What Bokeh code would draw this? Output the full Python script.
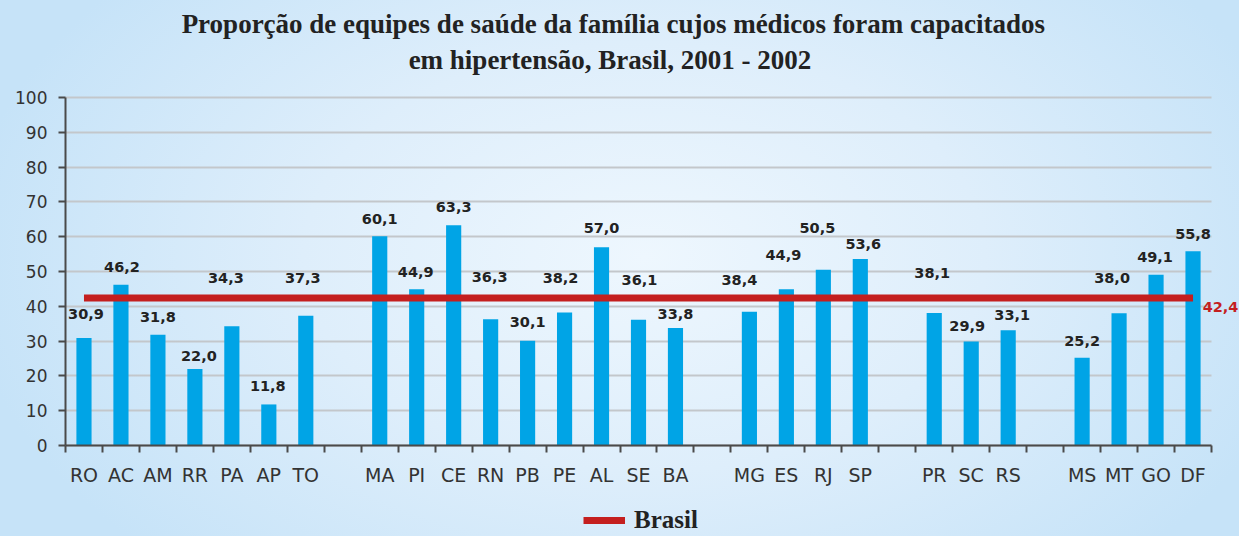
from bokeh.plotting import figure
from bokeh.models import (ColumnDataSource, FixedTicker, Label, Legend, LegendItem, Range1d)
from bokeh.core.properties import value
from bokeh.embed import file_html
from bokeh.resources import INLINE

# ---------------- data ----------------
regions = [
    ["RO", "AC", "AM", "RR", "PA", "AP", "TO"],
    ["MA", "PI", "CE", "RN", "PB", "PE", "AL", "SE", "BA"],
    ["MG", "ES", "RJ", "SP"],
    ["PR", "SC", "RS"],
    ["MS", "MT", "GO", "DF"],
]
values = [
    [30.9, 46.2, 31.8, 22.0, 34.3, 11.8, 37.3],
    [60.1, 44.9, 63.3, 36.3, 30.1, 38.2, 57.0, 36.1, 33.8],
    [38.4, 44.9, 50.5, 53.6],
    [38.1, 29.9, 33.1],
    [25.2, 38.0, 49.1, 55.8],
]
value_text = [
    ["30,9", "46,2", "31,8", "22,0", "34,3", "11,8", "37,3"],
    ["60,1", "44,9", "63,3", "36,3", "30,1", "38,2", "57,0", "36,1", "33,8"],
    ["38,4", "44,9", "50,5", "53,6"],
    ["38,1", "29,9", "33,1"],
    ["25,2", "38,0", "49,1", "55,8"],
]
brasil_value = 42.4
brasil_text = "42,4"
y_ticks = [0, 10, 20, 30, 40, 50, 60, 70, 80, 90, 100]
title_lines = ["Proporção de equipes de saúde da família cujos médicos foram capacitados",
               "em hipertensão,  Brasil, 2001 - 2002"]
legend_label = "Brasil"

# manual placement of the value labels as in the reference (label y in data units, x shift in px)
label_y = [
    [37.7, 51.4, 37.0, 25.6, 48.1, 17.2, 48.1],
    [65.0, 49.9, 68.5, 48.4, 35.5, 48.2, 62.4, 47.6, 37.8],
    [47.6, 54.7, 62.5, 58.0],
    [49.7, 34.2, 37.6],
    [30.0, 48.2, 54.2, 60.9],
]
label_dx = [
    [2, 1, 0, 4, -6, -1, -3],
    [0, -1, 0, -1, 0, -4, 0, 1, 0],
    [-10, -3, -6, 3],
    [-2, -4, 4],
    [0, -7, -1, 0],
]

# ---------------- layout of slots (one empty slot between regions) ----------------
xs, vals, ly, ldx, vtxt = [], [], [], [], []
overrides = {}
slot = 0
for r, states in enumerate(regions):
    if r > 0:
        overrides[slot] = ""
        slot += 1
    for k, s in enumerate(states):
        xs.append(slot)
        vals.append(values[r][k])
        ly.append(label_y[r][k])
        ldx.append(label_dx[r][k])
        vtxt.append(value_text[r][k])
        overrides[slot] = s
        slot += 1
n_slots = slot

src = ColumnDataSource(dict(x=xs, top=vals, ly=ly, dx=ldx, txt=vtxt))

W, H = 1239, 536
# frame covers the whole canvas; axes are pinned inside it
x_lo, x_hi = -0.5, n_slots - 0.5
px_x0, px_x1 = 65, 1211          # pixel span of the category axis
y_lo, y_hi = 0, 100
px_y0, px_y1 = 445, 97           # pixel rows of 0 and 100
sx = (px_x1 - px_x0) / (x_hi - x_lo)
sy = (px_y0 - px_y1) / (y_hi - y_lo)
xr = Range1d(x_lo - px_x0 / sx, x_hi + (W - px_x1) / sx)
yr = Range1d(y_lo - (H - px_y0) / sy, y_hi + px_y1 / sy)

p = figure(width=W, height=H, output_backend="svg", toolbar_location=None,
           x_range=xr, y_range=yr, min_border=0)
p.title.visible = False
p.styles = {"background": "radial-gradient(ellipse 55% 80% at 52% 48%, #eef7fe 0%, #deeefb 50%, #c6e3f8 100%)"}
p.border_fill_color = None
p.background_fill_color = None
p.outline_line_color = None

# grid
p.xgrid.visible = False
p.ygrid.ticker = FixedTicker(ticks=y_ticks)
p.ygrid.grid_line_color = "#c3c7cb"
p.ygrid.grid_line_width = 2
p.ygrid.cross_bounds = (x_lo, x_hi)

# y axis
ya = p.yaxis[0]
ya.fixed_location = x_lo
ya.bounds = (y_lo, y_hi)
ya.ticker = FixedTicker(ticks=y_ticks, minor_ticks=[])
ya.axis_line_color = "#4a4a4a"
ya.axis_line_width = 2
ya.major_tick_line_color = "#4a4a4a"
ya.major_tick_line_width = 2
ya.major_tick_out = 7
ya.major_tick_in = 0
ya.minor_tick_line_color = None
ya.major_label_standoff = 11
ya.major_label_text_font = "DejaVu Sans"
ya.major_label_text_font_size = "17px"
ya.major_label_text_color = "#333333"

# x axis
xa = p.xaxis[0]
xa.fixed_location = y_lo
xa.bounds = (x_lo, x_hi)
xa.ticker = FixedTicker(ticks=list(range(n_slots)), minor_ticks=[i - 0.5 for i in range(n_slots + 1)])
xa.major_label_overrides = overrides
xa.axis_line_color = "#4a4a4a"
xa.axis_line_width = 2
xa.major_tick_line_color = None
xa.major_tick_out = 0
xa.major_tick_in = 0
xa.minor_tick_line_color = "#4a4a4a"
xa.minor_tick_line_width = 2
xa.minor_tick_out = 7
xa.minor_tick_in = 0
xa.major_label_standoff = 11
xa.major_label_text_font = "DejaVu Sans"
xa.major_label_text_font_size = "19px"
xa.major_label_text_color = "#333333"

# bars
p.vbar(x="x", top="top", bottom=0, width=0.41, source=src, color="#00a4e6", line_color=None)

# national line
line_r = p.line(x=[xs[0], xs[-1]], y=[brasil_value, brasil_value], line_color="#c41f1f", line_width=7)

# value labels
p.text(x="x", y="ly", text="txt", x_offset="dx", source=src, text_align="center", text_baseline="middle",
       text_font=value("DejaVu Sans"), text_font_style="bold", text_font_size="14.5px", text_color="#222222")

# 42,4 label
p.add_layout(Label(x=x_hi - 0.24, y=brasil_value - 2.5, text=brasil_text, text_align="left",
                   text_baseline="middle", text_font="DejaVu Sans", text_font_style="bold",
                   text_font_size="14.5px", text_color="#c41f1f"))

# title
for i, t in enumerate(title_lines):
    p.add_layout(Label(x=14.32, y=[121.1, 110.8][i], text=t, text_align="center", text_baseline="middle",
                       text_font="Liberation Serif", text_font_style="bold", text_font_size="27px",
                       text_color="#222222"))

# legend
legend = Legend(items=[LegendItem(label=legend_label, renderers=[line_r])], location=(583, 2),
                orientation="horizontal", glyph_width=42, glyph_height=22, label_standoff=9,
                padding=0, margin=0, border_line_color=None, background_fill_alpha=0,
                label_text_font="Liberation Serif", label_text_font_style="bold",
                label_text_font_size="25px", label_text_color="#222222")
p.add_layout(legend)

open("out.html", "w").write(file_html(p, INLINE))
